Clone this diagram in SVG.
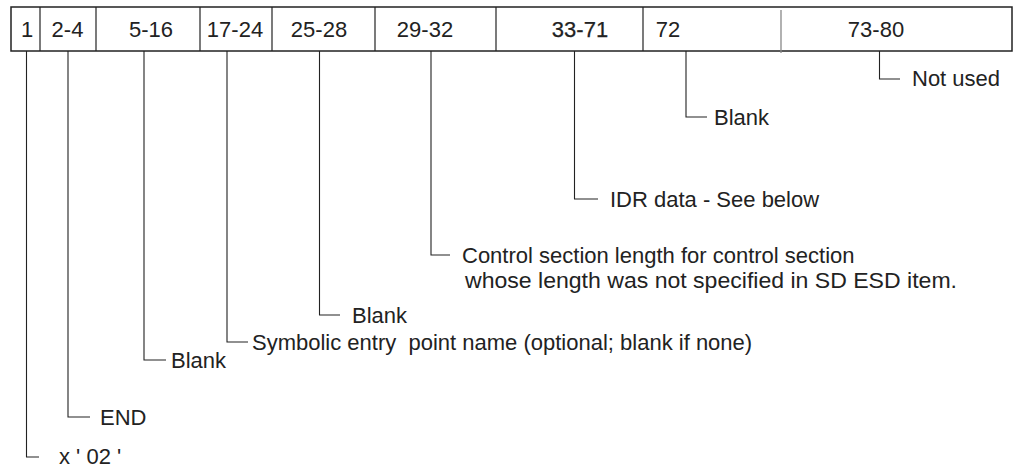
<svg xmlns="http://www.w3.org/2000/svg" width="1016" height="470" viewBox="0 0 1016 470">
  <style>
    text { font-family: "Liberation Sans", Arial, sans-serif; font-size: 22px; fill: #222; white-space: pre; }
    .c { text-anchor: middle; }
    .box { fill: #fff; stroke: #222; stroke-width: 1.5; }
    .div { stroke: #222; stroke-width: 1.2; }
    .lead { fill: none; stroke: #222; stroke-width: 1.1; }
  </style>
  <rect width="1016" height="470" fill="#fff"/>
  <g id="record">
    <rect class="box" x="11" y="7" width="1001" height="44"/>
    <line class="div" x1="40" y1="7" x2="40" y2="51"/>
    <line class="div" x1="96" y1="7" x2="96" y2="51"/>
    <line class="div" x1="200" y1="7" x2="200" y2="51"/>
    <line class="div" x1="272" y1="7" x2="272" y2="51"/>
    <line class="div" x1="375" y1="7" x2="375" y2="51"/>
    <line class="div" x1="496" y1="7" x2="496" y2="51"/>
    <line class="div" x1="643" y1="7" x2="643" y2="51"/>
    <line x1="781" y1="10" x2="781" y2="53" stroke="#888" stroke-width="1.3"/>
    <text class="c" x="27" y="37">1</text>
    <text class="c" x="67.5" y="37">2-4</text>
    <text class="c" x="151" y="37">5-16</text>
    <text class="c" x="235" y="37">17-24</text>
    <text class="c" x="319" y="37">25-28</text>
    <text class="c" x="425" y="37">29-32</text>
    <text class="c" x="580" y="37" stroke="#222" stroke-width="0.25">33-71</text>
    <text class="c" x="668" y="37">72</text>
    <text class="c" x="876" y="37">73-80</text>
  </g>
  <g id="connectors">
    <path class="lead" d="M26.5 51 V457 H39"/>
    <path class="lead" d="M68 51 V417 H90"/>
    <path class="lead" d="M144 51 V360 H166"/>
    <path class="lead" d="M227 51 V342 H248"/>
    <path class="lead" d="M319.5 51 V315 H340"/>
    <path class="lead" d="M431 51 V255 H450"/>
    <path class="lead" d="M574.5 51 V199 H598"/>
    <path class="lead" d="M686 51 V117 H707"/>
    <path class="lead" d="M879.5 51 V79 H900"/>
  </g>
  <g id="label-col1"><text x="59" y="464">x ' 02 '</text></g>
  <g id="label-col2-4"><text x="100" y="425">END</text></g>
  <g id="label-col5-16"><text x="171" y="368">Blank</text></g>
  <g id="label-col17-24"><text x="252" y="350">Symbolic entry  point name (optional; blank if none)</text></g>
  <g id="label-col25-28"><text x="352" y="323">Blank</text></g>
  <g id="label-col29-32">
    <text x="462" y="263">Control section length for control section</text>
    <text x="465" y="288" textLength="492" lengthAdjust="spacingAndGlyphs">whose length was not specified in SD ESD item.</text>
  </g>
  <g id="label-col33-71"><text x="610" y="207">IDR data - See below</text></g>
  <g id="label-col72"><text x="714" y="125">Blank</text></g>
  <g id="label-col73-80"><text x="912" y="86">Not used</text></g>
</svg>
